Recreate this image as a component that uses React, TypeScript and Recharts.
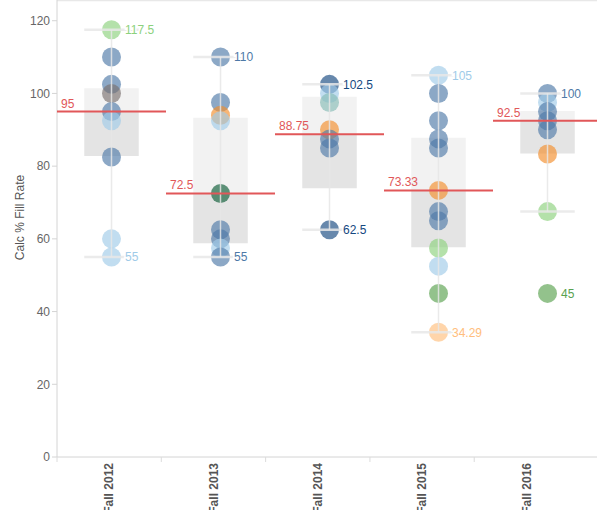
import {
  ComposedChart,
  XAxis,
  YAxis,
  Scatter,
  ReferenceArea,
  ReferenceLine,
} from "recharts";

const categories = ["Fall 2012", "Fall 2013", "Fall 2014", "Fall 2015", "Fall 2016"];

// fill rate per program, one list per term (group = program colour family)
const fall2012 = [117.5, 110, 102.5, 100, 95, 92.5, 82.5, 60, 55];
const fall2012Group = ["lgreen", "blue", "blue", "gray", "blue", "lblue", "blue", "lblue", "lblue"];
const fall2013 = [110, 97.5, 94, 92.5, 72.5, 62.5, 60, 57.5, 55];
const fall2013Group = ["blue", "blue", "orange", "lblue", "dgreen", "blue", "blue", "lblue", "blue"];
const fall2014 = [102.5, 100, 97.5, 90, 87.5, 85, 62.5];
const fall2014Group = ["dblue", "lblue", "lteal", "orange", "blue", "blue", "dblue"];
const fall2015 = [105, 100, 92.5, 87.5, 85, 73.33, 67.5, 65, 57.5, 52.5, 45, 34.29];
const fall2015Group = ["lblue", "blue", "blue", "blue", "blue", "orange", "blue", "blue", "lgreen", "lblue", "green", "lorange"];
const fall2016 = [100, 97.5, 95, 92.5, 90, 83.33, 67.5, 45];
const fall2016Group = ["blue", "lblue", "blue", "blue", "blue", "orange", "lgreen", "green"];

const termValues = [fall2012, fall2013, fall2014, fall2015, fall2016];
const termGroups = [fall2012Group, fall2013Group, fall2014Group, fall2015Group, fall2016Group];

// box plot stats
const lowerHinge = [82.8, 58.8, 73.9, 57.7, 83.5];
const medians = [95, 72.5, 88.75, 73.33, 92.5];
const upperHinge = [101.4, 93.3, 99.1, 87.8, 95.2];
const whiskerLow = [55, 55, 62.5, 34.29, 67.5];
const whiskerHigh = [117.5, 110, 102.5, 105, 100];

const yTicks = [0, 20, 40, 60, 80, 100, 120];
const catTicks = [0, 0.5, 1, 1.5, 2, 2.5, 3, 3.5, 4, 4.5];

const PALETTE: Record<string, string> = {
  blue: "#4e79a7",
  lblue: "#a0cbe8",
  dblue: "#15487f",
  orange: "#f28e2b",
  lorange: "#ffbe7d",
  green: "#59a14f",
  lgreen: "#8cd17d",
  dgreen: "#0b5a34",
  lteal: "#86bcb6",
  gray: "#79706e",
};

const RED = "#e15759";

const points = termValues.flatMap((vals, i) =>
  vals.map((v, j) => ({ x: i + 0.5, y: v, group: termGroups[i][j] }))
);

const extremes = termValues.flatMap((vals, i) => {
  const hi = vals.indexOf(Math.max(...vals));
  const lo = vals.indexOf(Math.min(...vals));
  return [hi, lo].map((j) => ({ x: i + 0.5, y: vals[j], group: termGroups[i][j] }));
});

// gives the header axis some data so it builds its ticks
const headerAnchors = categories.map((c, i) => ({ x: i + 0.5, y: 0, name: c }));

function Dot(props: any) {
  const { cx, cy, payload } = props;
  return <circle cx={cx} cy={cy} r={9.5} fill={PALETTE[payload.group]} fillOpacity={0.65} />;
}

function DotLabel(props: any) {
  const { cx, cy, payload } = props;
  return (
    <text
      x={cx + 13.5}
      y={cy}
      dy="0.36em"
      fontSize={12}
      fill={PALETTE[payload.group]}
      stroke="#fff"
      strokeWidth={3}
      paintOrder="stroke"
    >
      {payload.y}
    </text>
  );
}

function CategoryTick(props: any) {
  const { x, y, payload } = props;
  const v = payload.value;
  if (Number.isInteger(v)) {
    return <line x1={x} x2={x} y1={y - 6} y2={y - 1} stroke="#dcdcdc" />;
  }
  return (
    <text
      x={x}
      y={y}
      dy="0.36em"
      transform={`rotate(-90 ${x} ${y})`}
      textAnchor="end"
      fontSize={12}
      fontWeight="bold"
      fill="#555"
    >
      {categories[Math.floor(v)]}
    </text>
  );
}

function YTitle(props: any) {
  const { viewBox } = props;
  const x = viewBox.x + 20;
  const y = viewBox.y + viewBox.height / 2 - 11;
  return (
    <text
      x={x}
      y={y}
      dy="0.36em"
      transform={`rotate(-90 ${x} ${y})`}
      textAnchor="middle"
      fontSize={12}
      fill="#555"
    >
      Calc % Fill Rate
    </text>
  );
}

export default function App() {
  return (
    <div style={{ position: "absolute", left: 0, top: 0, fontFamily: "Arial, 'Liberation Sans', sans-serif" }}>
      <ComposedChart width={597} height={510} margin={{ top: 0, right: 0, bottom: 0, left: 0 }}>
        <XAxis xAxisId="pos" type="number" dataKey="x" domain={[0, 4.954]} allowDataOverflow hide />
        <XAxis
          xAxisId="lab"
          type="number"
          dataKey="x"
          domain={[0, 5.177]}
          allowDataOverflow
          ticks={catTicks}
          interval={0}
          tick={<CategoryTick />}
          tickLine={false}
          tickSize={6}
          tickMargin={0}
          axisLine={{ stroke: "#d4d4d4" }}
          height={53}
        />
        <YAxis
          type="number"
          dataKey="y"
          domain={[0, 125.7]}
          allowDataOverflow
          ticks={yTicks}
          interval={0}
          width={57}
          tickSize={5}
          tickMargin={2}
          tick={{ fontSize: 12, fill: "#666" }}
          tickLine={{ stroke: "#d4d4d4" }}
          axisLine={{ stroke: "#d4d4d4" }}
          label={<YTitle />}
        />
        <ReferenceLine xAxisId="pos" y={125.5} stroke="#e2e2e2" ifOverflow="visible" />

        <Scatter
          xAxisId="lab"
          data={headerAnchors}
          shape={() => <g />}
          isAnimationActive={false}
        />

        {categories.map((c, i) => (
          <ReferenceArea
            key={c + "hi"}
            xAxisId="pos"
            x1={i + 0.25}
            x2={i + 0.75}
            y1={medians[i]}
            y2={upperHinge[i]}
            fill="#f2f2f2"
            fillOpacity={1}
            stroke="none"
            zIndex={100}
          />
        ))}
        {categories.map((c, i) => (
          <ReferenceArea
            key={c + "lo"}
            xAxisId="pos"
            x1={i + 0.25}
            x2={i + 0.75}
            y1={lowerHinge[i]}
            y2={medians[i]}
            fill="#e4e4e4"
            fillOpacity={1}
            stroke="none"
            zIndex={100}
          />
        ))}

        <Scatter xAxisId="pos" data={points} shape={<Dot />} isAnimationActive={false} zIndex={600} />

        {categories.map((c, i) => (
          <ReferenceLine
            key={c + "w"}
            xAxisId="pos"
            segment={[
              { x: i + 0.5, y: whiskerLow[i] },
              { x: i + 0.5, y: whiskerHigh[i] },
            ]}
            stroke="#e6e6e6"
            strokeWidth={1.5}
            strokeOpacity={0.85}
            ifOverflow="visible"
            zIndex={700}
          />
        ))}
        {categories.map((c, i) => (
          <ReferenceLine
            key={c + "cl"}
            xAxisId="pos"
            segment={[
              { x: i + 0.25, y: whiskerLow[i] },
              { x: i + 0.75, y: whiskerLow[i] },
            ]}
            stroke="#e8e8e8"
            strokeWidth={2.5}
            strokeOpacity={0.85}
            ifOverflow="visible"
            zIndex={700}
          />
        ))}
        {categories.map((c, i) => (
          <ReferenceLine
            key={c + "ch"}
            xAxisId="pos"
            segment={[
              { x: i + 0.25, y: whiskerHigh[i] },
              { x: i + 0.75, y: whiskerHigh[i] },
            ]}
            stroke="#e8e8e8"
            strokeWidth={2.5}
            strokeOpacity={0.85}
            ifOverflow="visible"
            zIndex={700}
          />
        ))}

        {categories.map((c, i) => (
          <ReferenceLine
            key={c + "m"}
            xAxisId="pos"
            segment={[
              { x: i, y: medians[i] },
              { x: i + 1, y: medians[i] },
            ]}
            stroke={RED}
            strokeWidth={2}
            ifOverflow="visible"
            zIndex={800}
            label={{ value: String(medians[i]), position: "insideBottomLeft", offset: 4, fill: RED, fontSize: 12 }}
          />
        ))}

        <Scatter xAxisId="pos" data={extremes} shape={<DotLabel />} isAnimationActive={false} zIndex={900} />
      </ComposedChart>
    </div>
  );
}
